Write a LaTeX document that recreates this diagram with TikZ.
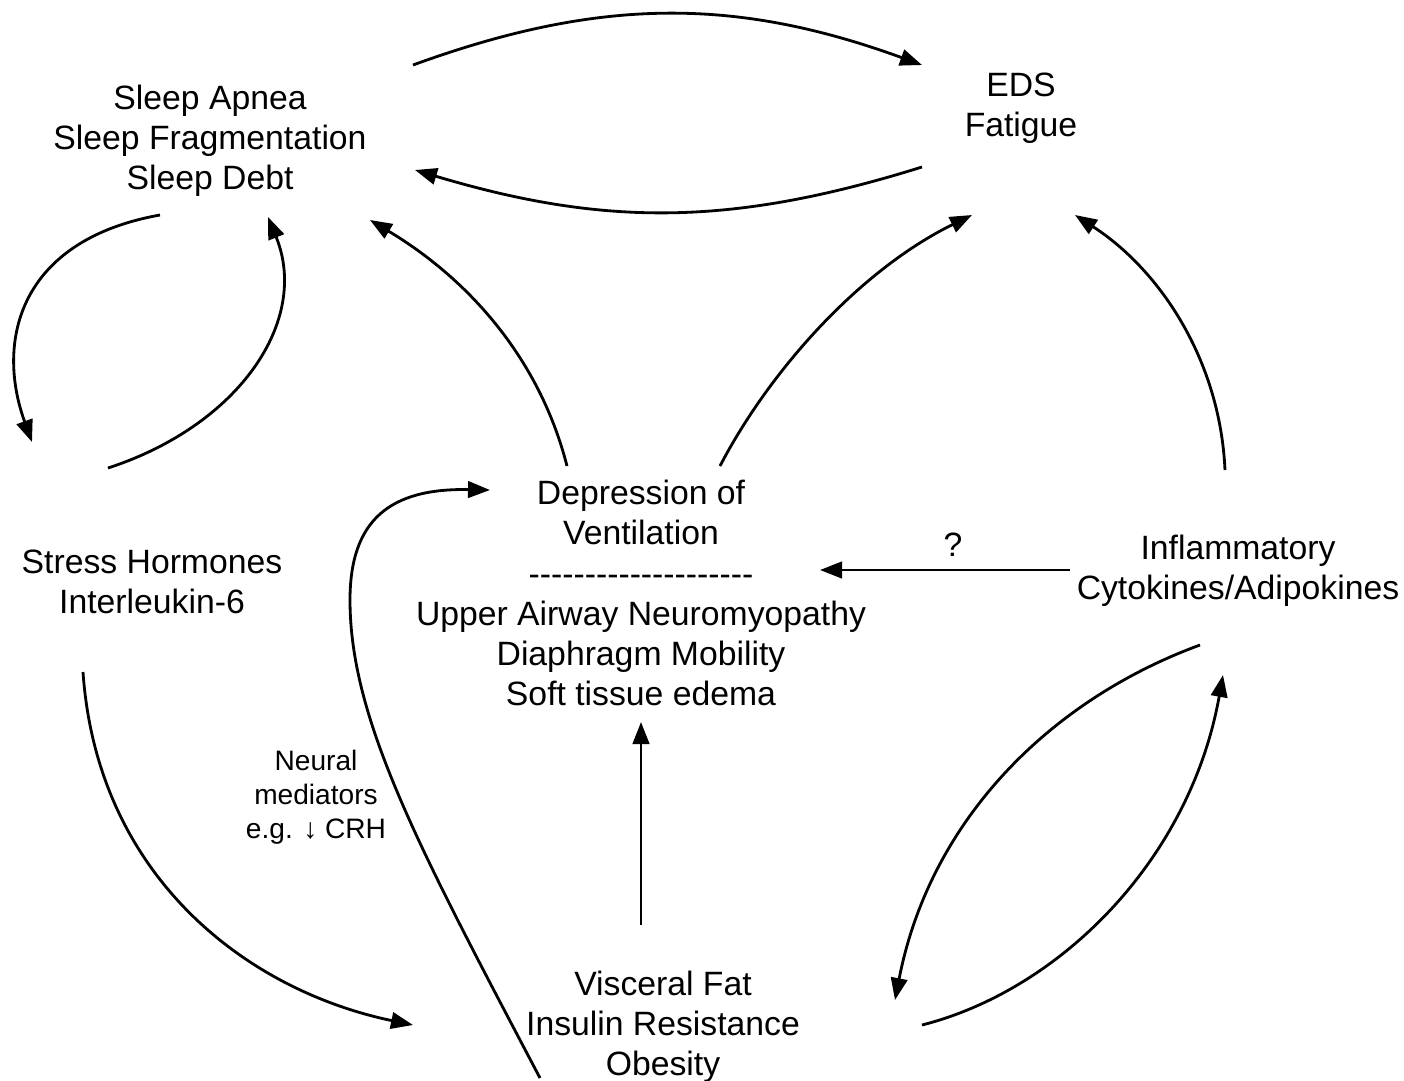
\documentclass[tikz,border=0pt]{standalone}
\usepackage{fontspec}
\setmainfont{Liberation Sans}
\usetikzlibrary{arrows.meta, calc}
\newcommand{\hyphenrow}{\foreach \k in {1,...,20}{-\kern0pt}}

\begin{document}
\begin{tikzpicture}[x=0.02cm, y=0.02cm,
    box/.style={align=center, inner sep=0pt, font=\fontsize{19.2}{22.8}\selectfont},
    note/.style={align=center, inner sep=0pt, font=\fontsize{16}{19.3}\selectfont},
    link/.style={line width=1.6pt, -{Triangle[length=0.44cm, width=0.33cm]}}]
  \useasboundingbox (0,0) rectangle (1404,-1080);

  % factors
  \node[box] (sleep)  at (210,-141)  {Sleep Apnea\\Sleep Fragmentation\\Sleep Debt};
  \node[box] (eds)    at (1021,-108) {EDS\\Fatigue};
  \node[box] (stress) at (152,-582)  {Stress Hormones\\Interleukin-6};
  \node[box] (depr)   at (641,-593)  {Depression of\\Ventilation\\\hyphenrow\\Upper Airway Neuromyopathy\\Diaphragm Mobility\\Soft tissue edema};
  \node[box] (inflam) at (1238,-571) {Inflammatory\\Cytokines/Adipokines};
  \node[box] (visc)   at (663,-1027) {Visceral Fat\\Insulin Resistance\\Obesity};
  \node[note] (neural) at (316,-797) {Neural\\mediators\\e.g. ↓ CRH};
  \node[box] (q)      at (953,-545)  {?};

  % top pair
  \draw[link] ($(sleep)+(203,76)$) to[bend left=20] ($(eds)+(-99,43)$);
  \draw[link] ($(eds)+(-99,-59)$) to[bend left=17] ($(sleep)+(205,-29)$);

  % left loop
  \draw[link] ($(sleep)+(-50,-74)$) .. controls +(-140,-25) and +(-37,102) .. ($(stress)+(-120,140)$);
  \draw[link] ($(stress)+(-44,114)$) .. controls +(132,43) and +(42,-103) .. ($(sleep)+(58,-76)$);

  % from depression of ventilation
  \draw[link] ($(depr)+(-74,127)$) .. controls +(-27,106) and +(100,-60) .. ($(sleep)+(160,-79)$);
  \draw[link] ($(depr)+(79,127)$) .. controls +(50,96) and +(-112,-55) .. ($(eds)+(-49,-107)$);

  % from inflammatory cytokines
  \draw[link] ($(inflam)+(-13,101)$) .. controls +(-5,110) and +(85,-55) .. ($(eds)+(54,-107)$);
  \draw[link] ($(inflam)+(-168,1)$) -- ($(depr)+(179,23)$);
  \draw[link] ($(inflam)+(-38,-74)$) .. controls +(-150,-55) and +(35,180) .. ($(visc)+(232,27)$);
  \draw[link] ($(visc)+(259,2)$) .. controls +(138,35) and +(-33,-185) .. ($(inflam)+(-15,-104)$);

  % visceral fat
  \draw[link] ($(visc)+(-22,102)$) -- ($(depr)+(0,-129)$);
  \draw[link] ($(stress)+(-69,-90)$) .. controls +(14,-203) and +(-168,35) .. ($(visc)+(-250,2)$);
  \draw[link] ($(visc)+(-123,-51)$) .. controls +(-120,228) and +(0,-120) .. ++(-190,478)
    .. controls +(0,80) and +(-100,2) .. ($(depr)+(-151,103)$);
\end{tikzpicture}
\end{document}
